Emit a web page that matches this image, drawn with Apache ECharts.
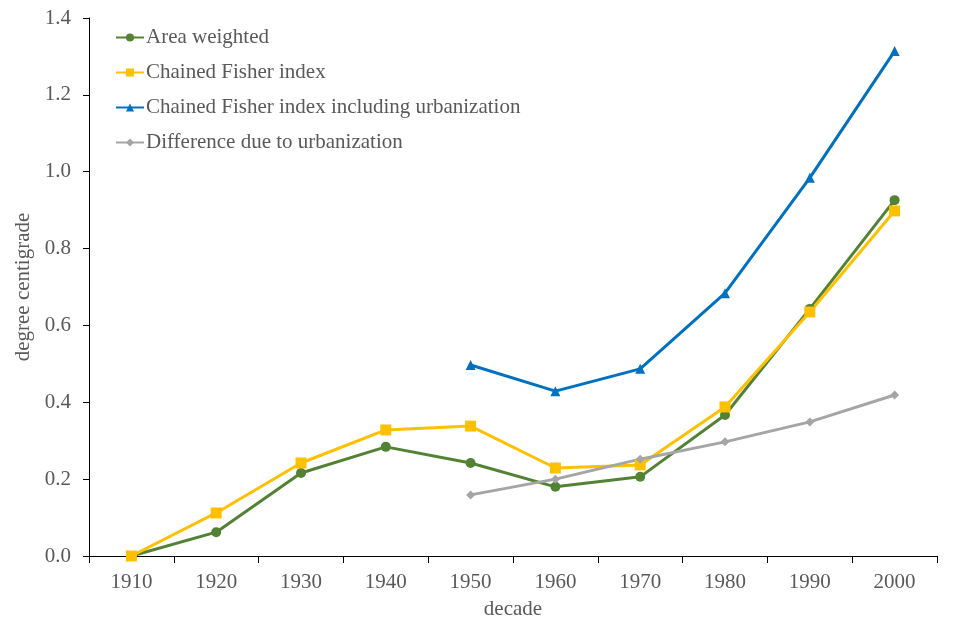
<!DOCTYPE html>
<html>
<head>
<meta charset="utf-8">
<script src="https://cdn.jsdelivr.net/npm/echarts@6/dist/echarts.min.js"></script>
<style>
  html, body { margin: 0; padding: 0; background: #fff; }
  #chart { width: 976px; height: 638px; }
</style>
</head>
<body>
<div id="chart"></div>
<script>
// data
var decades = ['1910', '1920', '1930', '1940', '1950', '1960', '1970', '1980', '1990', '2000'];
var areaWeighted = [0.000, 0.062, 0.216, 0.284, 0.242, 0.180, 0.206, 0.367, 0.643, 0.926];
var chainedFisher = [0.000, 0.112, 0.242, 0.328, 0.338, 0.229, 0.237, 0.388, 0.635, 0.898];
var fisherUrban = [null, null, null, null, 0.497, 0.429, 0.487, 0.684, 0.984, 1.314];
var urbanDiff = [null, null, null, null, 0.159, 0.200, 0.252, 0.297, 0.349, 0.419];

var font = '"Liberation Serif", "Times New Roman", serif';
var textColor = '#595959';

var myChart = echarts.init(document.getElementById('chart'));

function lineSeries(name, data, color, symbol, size) {
  return {
    name: name,
    type: 'line',
    data: data,
    symbol: symbol,
    symbolSize: size,
    showAllSymbol: true,
    connectNulls: false,
    lineStyle: { color: color, width: 3 },
    itemStyle: { color: color },
    emphasis: { disabled: true }
  };
}

var option = {
  animation: false,
  backgroundColor: '#fff',
  textStyle: { fontFamily: font, color: textColor },
  grid: { left: 89, right: 39, top: 18, bottom: 82 },
  legend: {
    orient: 'vertical',
    left: 110,
    top: 22,
    itemWidth: 28,
    itemHeight: 10,
    itemGap: 14,
    textStyle: { fontFamily: font, fontSize: 21, color: textColor, padding: [0, 0, 0, -3] },
    data: ['Area weighted', 'Chained Fisher index', 'Chained Fisher index including urbanization', 'Difference due to urbanization']
  },
  xAxis: {
    type: 'category',
    data: decades,
    boundaryGap: true,
    name: 'decade',
    nameLocation: 'middle',
    nameGap: 43,
    nameTextStyle: { fontFamily: font, fontSize: 21, color: textColor },
    axisLine: { lineStyle: { color: '#000', width: 1 } },
    axisTick: { show: true, length: 7, lineStyle: { color: '#000' } },
    axisLabel: { fontFamily: font, fontSize: 21, color: textColor, margin: 16 },
    splitLine: { show: false }
  },
  yAxis: {
    type: 'value',
    min: 0,
    max: 1.4,
    interval: 0.2,
    name: 'degree centigrade',
    nameLocation: 'middle',
    nameGap: 46,
    nameTextStyle: { fontFamily: font, fontSize: 21, color: textColor },
    axisLine: { show: true, lineStyle: { color: '#000', width: 1 } },
    axisTick: { show: true, length: 6, lineStyle: { color: '#000' } },
    axisLabel: {
      fontFamily: font, fontSize: 21, color: textColor, margin: 18,
      formatter: function (v) { return v.toFixed(1); }
    },
    splitLine: { show: false }
  },
  series: [
    lineSeries('Area weighted', areaWeighted, '#548235', 'circle', 10),
    lineSeries('Chained Fisher index', chainedFisher, '#FFC000', 'rect', 11),
    lineSeries('Chained Fisher index including urbanization', fisherUrban, '#0070C0', 'triangle', 10),
    lineSeries('Difference due to urbanization', urbanDiff, '#A5A5A5', 'diamond', 9)
  ]
};

myChart.setOption(option);
</script>
</body>
</html>
